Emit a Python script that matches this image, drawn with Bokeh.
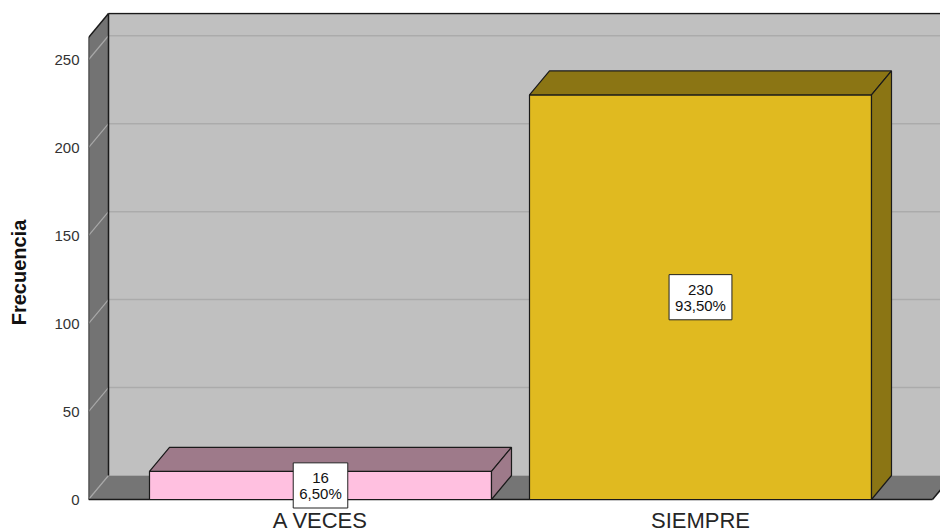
from bokeh.plotting import figure
from bokeh.models import FixedTicker, Range1d
from bokeh.embed import file_html
from bokeh.resources import INLINE
from bokeh.core.properties import value

# ---- data ----
categories = ["A VECES", "SIEMPRE"]
frequencies = [16, 230]
percent_labels = ["6,50%", "93,50%"]
y_ticks = [0, 50, 100, 150, 200, 250]

front_colors = ["#FFC0E0", "#E0BA20"]
shade_colors = ["#9E7A8A", "#8B7514"]

# ---- geometry (pixels -> data) ----
W, H = 940, 532
B_LEFT, B_TOP = 88, 12
frame_w = W - B_LEFT
frame_h = H - B_TOP
px_per_cat = 380.0
px_per_unit = 1.759
zero_px_from_top = 487.0            # zero line, pixels below frame top
x_start = -232.0 / px_per_cat
x_end = x_start + frame_w / px_per_cat
y_end = zero_px_from_top / px_per_unit
y_start = y_end - frame_h / px_per_unit
dxu = 20.0 / px_per_cat          # depth offset, x
dyu = 24.0 / px_per_unit         # depth offset, y
front_top = 262.6
back_top = front_top + dyu
front_right = (len(categories) - 1) - x_start
bar_half = 0.45
label_y = -8.0 / px_per_unit
FONT = "Liberation Sans"

p = figure(width=W, height=H, x_range=Range1d(x_start, x_end), y_range=Range1d(y_start, y_end),
           output_backend="svg", toolbar_location=None, x_axis_location=None,
           min_border_left=B_LEFT, min_border_right=0,
           min_border_top=B_TOP, min_border_bottom=0)
p.outline_line_color = None
p.background_fill_color = "white"
p.border_fill_color = "white"
p.grid.visible = False

# back wall
p.quad(left=[x_start + dxu], right=[x_end + 1], bottom=[dyu], top=[back_top],
       fill_color="#C0C0C0", line_color=None)
# back wall gridlines
gt = [t for t in y_ticks if t > 0]
p.segment(x0=[x_start + dxu] * len(gt), x1=[x_end + 1] * len(gt),
          y0=[t + dyu for t in gt], y1=[t + dyu for t in gt],
          line_color="#ABABAB", line_width=1.5)
# left wall
p.patch(x=[x_start, x_start, x_start + dxu, x_start + dxu],
        y=[0, front_top, back_top, dyu], fill_color="#737373", line_color=None)
# floor
p.patch(x=[x_start, front_right, front_right + dxu, x_start + dxu],
        y=[0, 0, dyu, dyu], fill_color="#757575", line_color=None)
# left-wall gridlines
p.segment(x0=[x_start] * len(y_ticks), x1=[x_start + dxu] * len(y_ticks),
          y0=y_ticks, y1=[t + dyu for t in y_ticks],
          line_color="#A8A8A8", line_width=1.2)
# outline edges
edge_x0 = [x_start, x_start, x_start + dxu, x_start + dxu, x_start, front_right]
edge_y0 = [0, front_top, back_top, dyu, 0, 0]
edge_x1 = [x_start, x_start + dxu, x_end + 1, x_start + dxu, front_right, front_right + dxu]
edge_y1 = [front_top, back_top, back_top, back_top, 0, dyu]
p.segment(x0=edge_x0, y0=edge_y0, x1=edge_x1, y1=edge_y1, line_color="#1A1A1A", line_width=1.5)

# bars
xs_c = list(range(len(categories)))
lefts = [c - bar_half for c in xs_c]
rights = [c + bar_half for c in xs_c]
p.quad(left=lefts, right=rights, bottom=[0] * len(xs_c), top=frequencies,
       fill_color=front_colors, line_color="#1A1A1A", line_width=1.2)
top_xs = [[l, l + dxu, r + dxu, r] for l, r in zip(lefts, rights)]
top_ys = [[v, v + dyu, v + dyu, v] for v in frequencies]
side_xs = [[r, r, r + dxu, r + dxu] for r in rights]
side_ys = [[0, v, v + dyu, dyu] for v in frequencies]
p.patches(xs=top_xs, ys=top_ys, fill_color=shade_colors, line_color="#1A1A1A", line_width=1.2)
p.patches(xs=side_xs, ys=side_ys, fill_color=shade_colors, line_color="#1A1A1A", line_width=1.2)

# value labels
texts = [f"{f}\n{pc}" for f, pc in zip(frequencies, percent_labels)]
p.text(x=xs_c, y=[v / 2 for v in frequencies], text=texts,
       text_font=value(FONT), text_font_size="15px", text_color="#111111",
       text_align="center", text_baseline="middle", text_line_height=0.95,
       background_fill_color="white", border_line_color="#222222", border_line_width=1,
       padding=6)

# category labels (x axis)
p.text(x=xs_c, y=[label_y] * len(xs_c), text=categories,
       text_font=value(FONT), text_font_size="22px", text_color="#262626",
       text_align="center", text_baseline="top")

# y axis
ya = p.yaxis[0]
ya.ticker = FixedTicker(ticks=y_ticks)
ya.axis_line_color = None
ya.major_tick_line_color = None
ya.minor_tick_line_color = None
ya.major_tick_out = 0
ya.major_tick_in = 0
ya.major_label_text_font = FONT
ya.major_label_text_font_size = "15px"
ya.major_label_text_color = "#333333"
ya.major_label_standoff = 9
ya.axis_label = "Frecuencia"
ya.axis_label_text_font = FONT
ya.axis_label_text_font_style = "bold"
ya.axis_label_text_font_size = "20px"
ya.axis_label_text_color = "#111111"
ya.axis_label_standoff = 21

open("out.html", "w").write(file_html(p, INLINE))
